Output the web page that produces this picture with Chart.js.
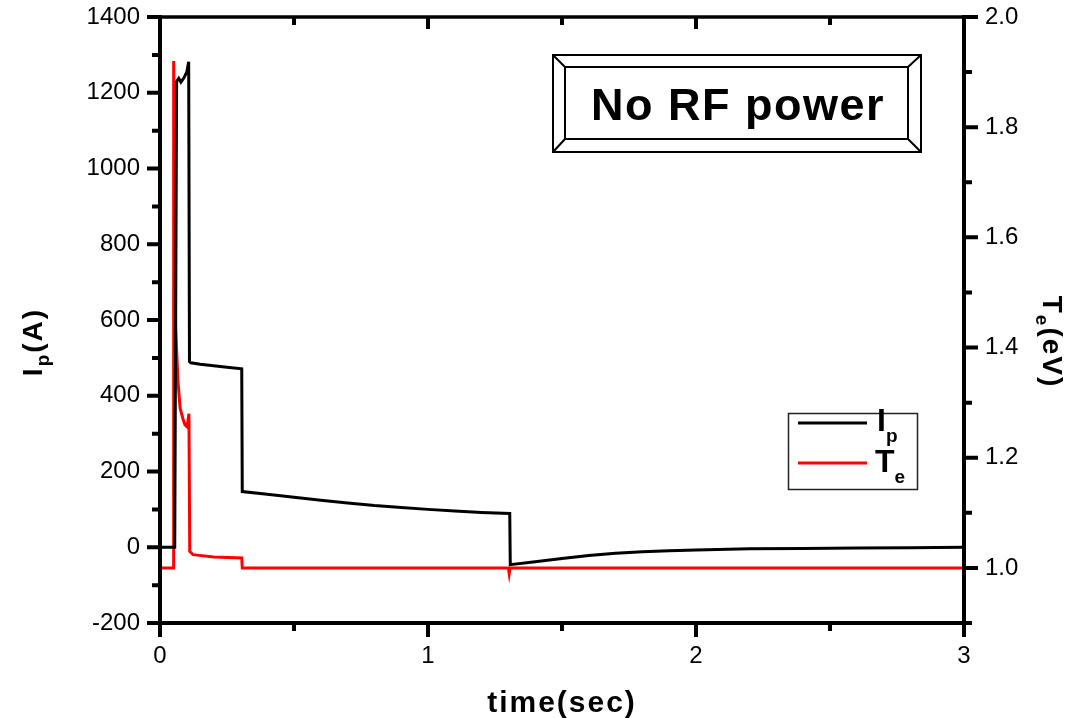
<!DOCTYPE html>
<html>
<head>
<meta charset="utf-8">
<script src="https://cdn.jsdelivr.net/npm/chart.js@4.4.1/dist/chart.umd.min.js"></script>
<style>
  html, body { margin: 0; padding: 0; background: #fff; }
  #wrap { width: 1084px; height: 718px; }
</style>
</head>
<body>
<div id="wrap"><canvas id="chart" width="1084" height="718"></canvas></div>
<script>
'use strict';

// Ip (A) vs time (sec)
const ipTime = [0, 0.055, 0.062, 0.070, 0.078, 0.090, 0.100, 0.107, 0.110, 0.115, 0.15, 0.20, 0.25, 0.305,
  0.307, 0.40, 0.50, 0.60, 0.70, 0.80, 0.90, 1.00, 1.10, 1.20, 1.305,
  1.307, 1.40, 1.50, 1.60, 1.70, 1.80, 1.90, 2.00, 2.20, 2.40, 2.60, 2.80, 3.00];
const ipVals = [0, 0, 1230, 1238, 1228, 1240, 1255, 1282, 490, 487, 483, 479, 475, 471,
  147, 140, 132, 124, 117, 110, 105, 100, 96, 92, 89,
  -46, -38, -30, -22, -16, -12, -9, -7, -4, -3, -2, -1, 0];

// Te (eV) vs time (sec)
const teTime = [0, 0.049, 0.051, 0.054, 0.058, 0.067, 0.075, 0.086, 0.093, 0.101, 0.108, 0.111, 0.123, 0.20, 0.305,
  0.307, 1.30, 1.303, 1.306, 3.00];
const teVals = [1.0, 1.0, 1.92, 1.70, 1.44, 1.34, 1.29, 1.27, 1.26, 1.256, 1.28, 1.03, 1.024, 1.02, 1.018,
  1.0, 1.0, 0.99, 1.0, 1.0];

// tick values
const xMajor  = [0, 1, 2, 3];
const xMinor  = [0.5, 1.5, 2.5];
const ipMajor = [-200, 0, 200, 400, 600, 800, 1000, 1200, 1400];
const ipMinor = [-100, 100, 300, 500, 700, 900, 1100, 1300];
const teMajor = [1.0, 1.2, 1.4, 1.6, 1.8, 2.0];
const teMinor = [0.9, 1.1, 1.3, 1.5, 1.7, 1.9];

const FONT = "'Liberation Sans', Arial, sans-serif";

const toPoints = (xs, ys) => xs.map((x, i) => ({ x, y: ys[i] }));

function drawSub(ctx, x, y, main, sub, size, subSize, subDrop, spacing) {
  ctx.font = `bold ${size}px ${FONT}`;
  ctx.letterSpacing = spacing + 'px';
  ctx.fillText(main[0], x, y);
  let w = ctx.measureText(main[0]).width;
  ctx.font = `bold ${subSize}px ${FONT}`;
  ctx.fillText(sub, x + w, y + subDrop);
  w += ctx.measureText(sub).width;
  ctx.font = `bold ${size}px ${FONT}`;
  if (main.length > 1) ctx.fillText(main.slice(1), x + w, y);
}

function subWidth(ctx, main, sub, size, subSize, spacing) {
  ctx.letterSpacing = spacing + 'px';
  ctx.font = `bold ${size}px ${FONT}`;
  const w = ctx.measureText(main).width;
  ctx.font = `bold ${subSize}px ${FONT}`;
  return w + ctx.measureText(sub).width;
}

const framePlugin = {
  id: 'frame',
  afterDraw(chart) {
    const { ctx, chartArea: a, scales } = chart;
    const sx = scales.x, sl = scales.y, sr = scales.y1;
    ctx.save();
    ctx.strokeStyle = '#000';
    ctx.fillStyle = '#000';
    ctx.lineCap = 'butt';

    // frame
    ctx.lineWidth = 4;
    ctx.beginPath();
    ctx.moveTo(a.left, a.top - 2); ctx.lineTo(a.left, a.bottom + 2);
    ctx.moveTo(a.right, a.top - 2); ctx.lineTo(a.right, a.bottom + 2);
    ctx.moveTo(a.left - 13, a.bottom); ctx.lineTo(a.right + 2, a.bottom);
    ctx.stroke();
    ctx.lineWidth = 3.5;
    ctx.beginPath();
    ctx.moveTo(a.left - 13, a.top); ctx.lineTo(a.right + 14, a.top);
    ctx.stroke();

    // ticks
    ctx.lineWidth = 4;
    ctx.beginPath();
    xMajor.forEach((v) => {
      const p = sx.getPixelForValue(v);
      ctx.moveTo(p, a.bottom); ctx.lineTo(p, a.bottom + 14);
      ctx.moveTo(p, a.top); ctx.lineTo(p, a.top + 12);
    });
    xMinor.forEach((v) => {
      const p = sx.getPixelForValue(v);
      ctx.moveTo(p, a.bottom); ctx.lineTo(p, a.bottom + 8);
      ctx.moveTo(p, a.top); ctx.lineTo(p, a.top + 8);
    });
    ipMajor.forEach((v) => {
      const p = sl.getPixelForValue(v);
      ctx.moveTo(a.left - 13, p); ctx.lineTo(a.left, p);
    });
    ipMinor.forEach((v) => {
      const p = sl.getPixelForValue(v);
      ctx.moveTo(a.left - 8, p); ctx.lineTo(a.left, p);
    });
    teMajor.forEach((v) => {
      const p = sr.getPixelForValue(v);
      ctx.moveTo(a.right, p); ctx.lineTo(a.right + 14, p);
    });
    teMinor.forEach((v) => {
      const p = sr.getPixelForValue(v);
      ctx.moveTo(a.right, p); ctx.lineTo(a.right + 8, p);
    });
    ctx.stroke();

    // axis titles
    ctx.textBaseline = 'alphabetic';
    ctx.textAlign = 'left';
    ctx.font = `bold 30px ${FONT}`;
    ctx.letterSpacing = '2px';
    const xt = 'time(sec)';
    const xw = ctx.measureText(xt).width;
    ctx.fillText(xt, (a.left + a.right) / 2 - xw / 2, 712);

    ctx.save();
    ctx.translate(42, 342);
    ctx.rotate(-Math.PI / 2);
    let w = subWidth(ctx, 'I(A)', 'p', 28, 19, 2);
    drawSub(ctx, -w / 2, 0, 'I(A)', 'p', 28, 19, 7, 2);
    ctx.restore();

    ctx.save();
    ctx.translate(1043, 342);
    ctx.rotate(Math.PI / 2);
    w = subWidth(ctx, 'T(eV)', 'e', 28, 19, 2);
    drawSub(ctx, -w / 2, 0, 'T(eV)', 'e', 28, 19, 7, 2);
    ctx.restore();

    // legend
    ctx.letterSpacing = '0px';
    ctx.lineWidth = 1.5;
    ctx.strokeStyle = '#222';
    ctx.strokeRect(788.5, 413.5, 129, 76);
    ctx.lineWidth = 3;
    ctx.strokeStyle = '#000';
    ctx.beginPath(); ctx.moveTo(798, 423); ctx.lineTo(867, 423); ctx.stroke();
    ctx.strokeStyle = '#ff0000';
    ctx.beginPath(); ctx.moveTo(798, 463); ctx.lineTo(867, 463); ctx.stroke();
    drawSub(ctx, 877, 431, 'I', 'p', 32, 19, 11, 0);
    drawSub(ctx, 875, 472, 'T', 'e', 32, 19, 11, 0);

    // "No RF power" box
    ctx.strokeStyle = '#000';
    ctx.lineWidth = 2;
    ctx.strokeRect(553, 55, 368, 97);
    ctx.strokeRect(565, 67, 343, 72);
    ctx.beginPath();
    ctx.moveTo(553, 55); ctx.lineTo(565, 67);
    ctx.moveTo(921, 55); ctx.lineTo(908, 67);
    ctx.moveTo(553, 152); ctx.lineTo(565, 139);
    ctx.moveTo(921, 152); ctx.lineTo(908, 139);
    ctx.stroke();
    ctx.font = `bold 45px ${FONT}`;
    ctx.letterSpacing = '1.5px';
    const nt = 'No RF power';
    const nw = ctx.measureText(nt).width;
    ctx.fillText(nt, 737 - nw / 2 + 1, 120);

    ctx.restore();
  },
};

const tickFont = { family: FONT, size: 24 };
const noPad = (s) => { s.paddingTop = 0; s.paddingBottom = 0; };

new Chart(document.getElementById('chart'), {
  type: 'line',
  data: {
    datasets: [
      {
        label: 'Ip',
        data: toPoints(ipTime, ipVals),
        yAxisID: 'y',
        borderColor: '#000',
        borderWidth: 3,
        pointRadius: 0,
        tension: 0,
      },
      {
        label: 'Te',
        data: toPoints(teTime, teVals),
        yAxisID: 'y1',
        borderColor: '#ff0000',
        borderWidth: 3,
        pointRadius: 0,
        tension: 0,
      },
    ],
  },
  options: {
    responsive: false,
    animation: false,
    layout: { padding: { top: 17, left: 0, right: 0, bottom: 0 } },
    plugins: { legend: { display: false }, tooltip: { enabled: false } },
    scales: {
      x: {
        type: 'linear',
        min: 0, max: 3,
        ticks: { stepSize: 1, color: '#000', font: tickFont, padding: 5, maxRotation: 0,
          callback: (v) => String(v) },
        grid: { display: false, drawTicks: true, tickLength: 14 },
        border: { display: false },
        afterFit: (s) => { s.height = 95; s.paddingLeft = 0; s.paddingRight = 0; },
      },
      y: {
        position: 'left',
        min: -200, max: 1400,
        ticks: { stepSize: 200, color: '#000', font: tickFont, padding: 6,
          callback: (v) => String(v) },
        grid: { display: false, drawTicks: true, tickLength: 14 },
        border: { display: false },
        afterFit: (s) => { s.width = 160; noPad(s); },
      },
      y1: {
        position: 'right',
        min: 0.9, max: 2.0,
        ticks: {
          stepSize: 0.1, color: '#000', font: tickFont, padding: 7,
          callback: (v) => {
            const r = Math.round(v * 10);
            return (r >= 10 && r % 2 === 0) ? (r / 10).toFixed(1) : '';
          },
        },
        grid: { display: false, drawTicks: true, tickLength: 14 },
        border: { display: false },
        afterFit: (s) => { s.width = 120; noPad(s); },
      },
    },
  },
  plugins: [framePlugin],
});
</script>
</body>
</html>
